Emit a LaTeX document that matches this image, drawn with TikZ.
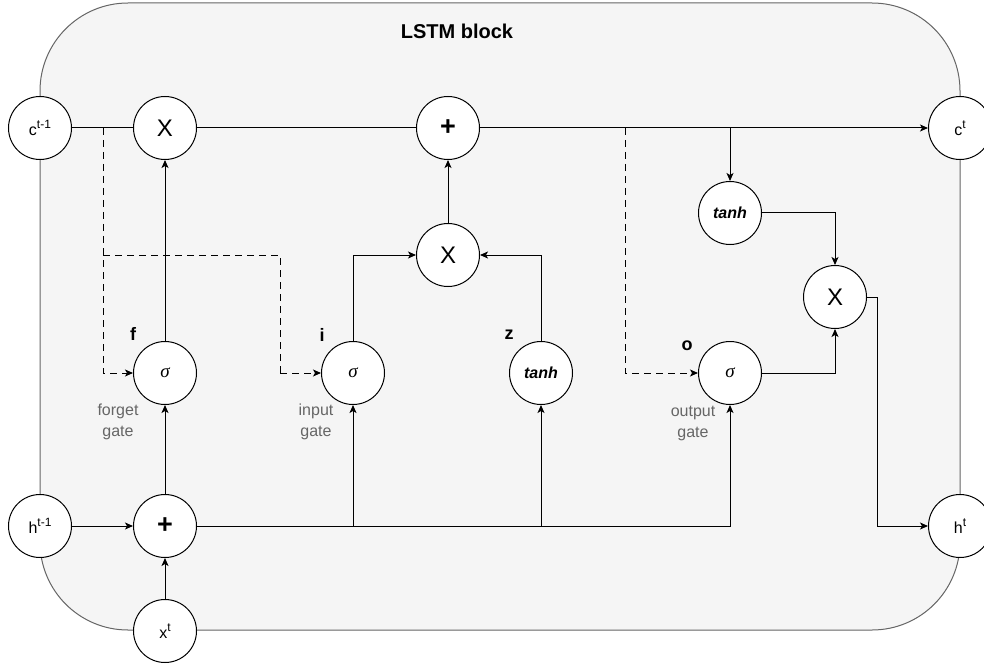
\documentclass[tikz,border=0pt]{standalone}
\usepackage{fontspec}
\setmainfont{Liberation Sans}
\newfontfamily\greekfont{Liberation Serif}
\usetikzlibrary{arrows.meta}
\definecolor{blockfill}{HTML}{F5F5F5}
\definecolor{blockline}{HTML}{666666}
\definecolor{notegray}{HTML}{666666}
\newcommand{\sig}{{\greekfont\itshape σ}}
\newcommand{\upidx}[1]{\raisebox{0.42em}{\fontsize{12}{12}\selectfont #1}}
\tikzset{
  op/.style={circle, draw=black, fill=white, line width=1pt, minimum size=63pt, inner sep=0pt},
  bigop/.style={op, font=\fontsize{24}{24}\selectfont},
  plusop/.style={op, font=\fontsize{27}{27}\selectfont\bfseries},
  port/.style={op, font=\fontsize{16}{16}\selectfont},
  sigop/.style={op, font=\fontsize{19}{19}\selectfont},
  fn/.style={op, font=\fontsize{16}{16}\selectfont\bfseries\itshape},
  wire/.style={line width=1pt, draw=black},
  arr/.style={wire, -{Stealth[length=8pt,width=7pt,inset=2pt]}},
  dwire/.style={wire, dash pattern=on 7pt off 5pt},
  darr/.style={dwire, -{Stealth[length=8pt,width=7pt,inset=2pt]}},
  gname/.style={font=\fontsize{18}{18}\selectfont\bfseries, inner sep=0pt},
  gnote/.style={font=\fontsize{16}{21}\selectfont, text=notegray, align=center, inner sep=0pt}
}
\begin{document}
\begin{tikzpicture}[x=1pt,y=-1pt]
\useasboundingbox (0,0) rectangle (984,668);
% outer block
\draw[fill=blockfill, draw=blockline, line width=1pt, rounded corners=88pt] (40,3) rectangle (960,630);
\node[font=\fontsize{20}{20}\selectfont\bfseries] (title) at (457,31) {LSTM block};

% ports
\node[port] (cprev) at (40,128) {c\upidx{t-1}};
\node[port] (cnext) at (960,128) {c\upidx{t}};
\node[port] (hprev) at (40,526) {h\upidx{t-1}};
\node[port] (hnext) at (960,526) {h\upidx{t}};
\node[port] (xin) at (165,631) {x\upidx{t}};

% operators
\node[bigop] (mulf) at (165,128) {X};
\node[plusop] (addc) at (448,128) {+};
\node[bigop] (muli) at (448,255) {X};
\node[bigop] (mulo) at (835,297) {X};
\node[plusop] (addh) at (165,526) {+};

% gates and activations
\node[sigop] (sigf) at (165,373) {\sig};
\node[sigop] (sigi) at (353,373) {\sig};
\node[fn] (tanz) at (541,373) {tanh};
\node[sigop] (sigo) at (730,373) {\sig};
\node[fn] (tanc) at (730,213) {tanh};

% gate names and notes
\node[gname] (lf) at (133,334) {f};
\node[gname] (li) at (322,335) {i};
\node[gname] (lz) at (509,335) {z};
\node[gname] (lo) at (687,346) {o};
\node[gnote] (nf) at (118,422) {forget\\gate};
\node[gnote] (ni) at (316,422) {input\\gate};
\node[gnote] (no) at (693,423) {output\\gate};

% cell state line
\coordinate (peekf) at (103,128);
\coordinate (tapc) at (730,128);
\coordinate (peeko) at (625,128);
\draw[wire] (cprev) -- (mulf);
\draw[wire] (mulf) -- (addc);
\draw[arr] (addc) -- (cnext);
\draw[arr] (tapc) -- (tanc);

% input sum and its fan-out
\draw[arr] (hprev) -- (addh);
\draw[arr] (xin) -- (addh);
\draw[arr] (addh) -- (sigf);
\coordinate (bi) at (353,526);
\coordinate (bz) at (541,526);
\draw[arr] (addh.east) -- (730,526) -- (sigo.south);
\draw[arr] (bi) -- (sigi);
\draw[arr] (bz) -- (tanz);

% gate outputs
\draw[arr] (sigf) -- (mulf);
\draw[arr] (sigi.north) |- (muli.west);
\draw[arr] (tanz.north) |- (muli.east);
\draw[arr] (muli) -- (addc);
\draw[arr] (tanc.east) -| (mulo.north);
\draw[arr] (sigo.east) -| (mulo.south);
\draw[arr] (mulo.east) -- (877,297) |- (hnext.west);

% peephole connections
\draw[darr] (peekf) |- (sigf.west);
\draw[dwire] (103,255) -- (280,255) -- (280,373);
\draw[darr] (280,373) -- (sigi.west);
\draw[darr] (peeko) |- (sigo.west);
\end{tikzpicture}
\end{document}
